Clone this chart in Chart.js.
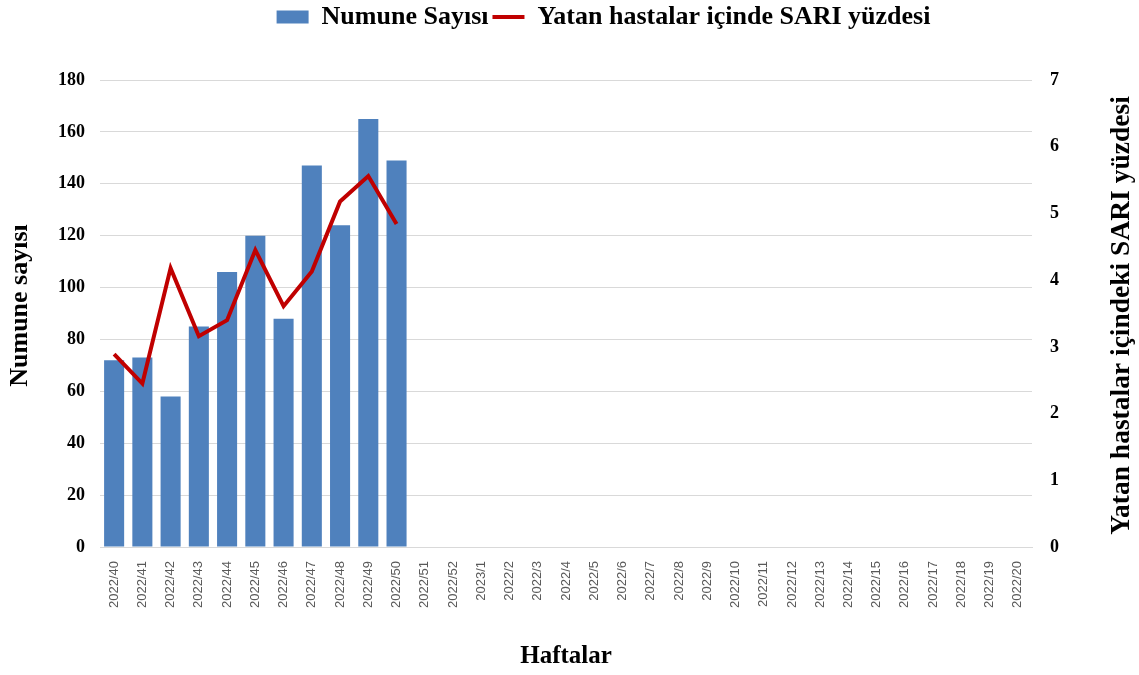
<!DOCTYPE html>
<html>
<head>
<meta charset="utf-8">
<script src="https://cdn.jsdelivr.net/npm/chart.js@4.4.1/dist/chart.umd.min.js"></script>
<style>
html,body{margin:0;padding:0;background:#fff;}
#wrap{width:1139px;height:675px;}
</style>
</head>
<body>
<div id="wrap"><canvas id="c" width="1139" height="675"></canvas></div>
<script>
const weeks = ["2022/40","2022/41","2022/42","2022/43","2022/44","2022/45","2022/46","2022/47","2022/48","2022/49","2022/50","2022/51","2022/52","2023/1","2022/2","2022/3","2022/4","2022/5","2022/6","2022/7","2022/8","2022/9","2022/10","2022/11","2022/12","2022/13","2022/14","2022/15","2022/16","2022/17","2022/18","2022/19","2022/20"];
const numuneSayisi = [72, 73, 58, 85, 106, 120, 88, 147, 124, 165, 149];
const sariYuzdesi = [2.89, 2.45, 4.18, 3.16, 3.40, 4.45, 3.61, 4.13, 5.18, 5.56, 4.84];
const leftTicks = [0, 180, 20];
const rightTicks = [0, 7, 1];
const leftTitle = 'Numune sayısı';
const rightTitle = 'Yatan hastalar içindeki SARI yüzdesi';

const serif = "'Liberation Serif','Times New Roman',serif";

const legendSpacer = {
  id: 'legendSpacer',
  afterInit(chart) {
    const lg = chart.legend;
    if (!lg) return;
    const fit = lg.fit.bind(lg);
    lg.fit = function () { fit(); this.height = 80; };
  },
  afterLayout(chart) {
    const lg = chart.legend;
    if (!lg) return;
    lg.left += 34;
    lg.right += 34;
  }
};

// vertical axis titles, both reading bottom-to-top like the reference
const axisTitlesPlugin = {
  id: 'axisTitles',
  afterDraw(chart) {
    const ctx = chart.ctx;
    const ca = chart.chartArea;
    const draw = (text, x, y, size) => {
      ctx.save();
      ctx.font = "bold " + size + "px " + serif;
      ctx.fillStyle = '#000';
      ctx.textAlign = 'center';
      ctx.textBaseline = 'middle';
      ctx.translate(x, y);
      ctx.rotate(-Math.PI / 2);
      ctx.fillText(text, 0, 0);
      ctx.restore();
    };
    draw(leftTitle, chart.scales.y.left + 20, (ca.top + ca.bottom) / 2 - 8, 26);
    draw(rightTitle, chart.scales.y1.right - 17, (ca.top + ca.bottom) / 2 + 2, 27.5);
  }
};

new Chart(document.getElementById('c'), {
  data: {
    labels: weeks,
    datasets: [
      {
        type: 'bar',
        label: 'Numune Sayısı',
        data: numuneSayisi,
        backgroundColor: '#4f81bd',
        borderWidth: 0,
        yAxisID: 'y',
        order: 1,
        pointStyle: 'rect',
        barPercentage: 0.71,
        categoryPercentage: 1.0
      },
      {
        type: 'line',
        label: 'Yatan hastalar içinde SARI yüzdesi',
        data: sariYuzdesi,
        borderColor: '#c00000',
        backgroundColor: '#c00000',
        borderWidth: 4,
        pointRadius: 0,
        tension: 0,
        yAxisID: 'y1',
        order: 0,
        pointStyle: 'line'
      }
    ]
  },
  options: {
    responsive: false,
    animation: false,
    layout: { padding: { left: 0, right: 0, top: 0, bottom: 0 } },
    plugins: {
      tooltip: { enabled: false },
      legend: {
        position: 'top',
        labels: {
          usePointStyle: true,
          pointStyleWidth: 32,
          boxHeight: 13,
          padding: 4,
          color: '#000',
          font: { family: serif, size: 26, weight: 'bold', lineHeight: 1.0 },
          sort: (a, b) => a.datasetIndex - b.datasetIndex
        }
      }
    },
    scales: {
      x: {
        grid: { display: false },
        border: { display: true, color: '#d9d9d9', width: 1 },
        ticks: {
          minRotation: 90, maxRotation: 90, autoSkip: false,
          padding: 6,
          color: '#595959',
          font: { family: "'Liberation Sans',Arial,sans-serif", size: 13 }
        },
        title: {
          display: true, text: 'Haftalar', color: '#000',
          font: { family: serif, size: 25, weight: 'bold', lineHeight: 1.2 },
          padding: { top: 0, bottom: 3 }
        },
        afterFit(s) { s.height = 128; }
      },
      y: {
        position: 'left',
        min: leftTicks[0], max: leftTicks[1],
        ticks: { stepSize: leftTicks[2], padding: 15, color: '#000', font: { family: serif, size: 18, weight: 'bold' } },
        grid: { color: '#d9d9d9', drawTicks: false, lineWidth: 1 },
        border: { display: false },
        title: { display: false },
        afterFit(s) { s.width = 100; }
      },
      y1: {
        position: 'right',
        min: rightTicks[0], max: rightTicks[1],
        ticks: { stepSize: rightTicks[2], padding: 18, color: '#000', font: { family: serif, size: 18, weight: 'bold' } },
        grid: { display: false, drawTicks: false },
        border: { display: false },
        title: { display: false },
        afterFit(s) { s.width = 107; }
      }
    }
  },
  plugins: [legendSpacer, axisTitlesPlugin]
});
</script>
</body>
</html>
